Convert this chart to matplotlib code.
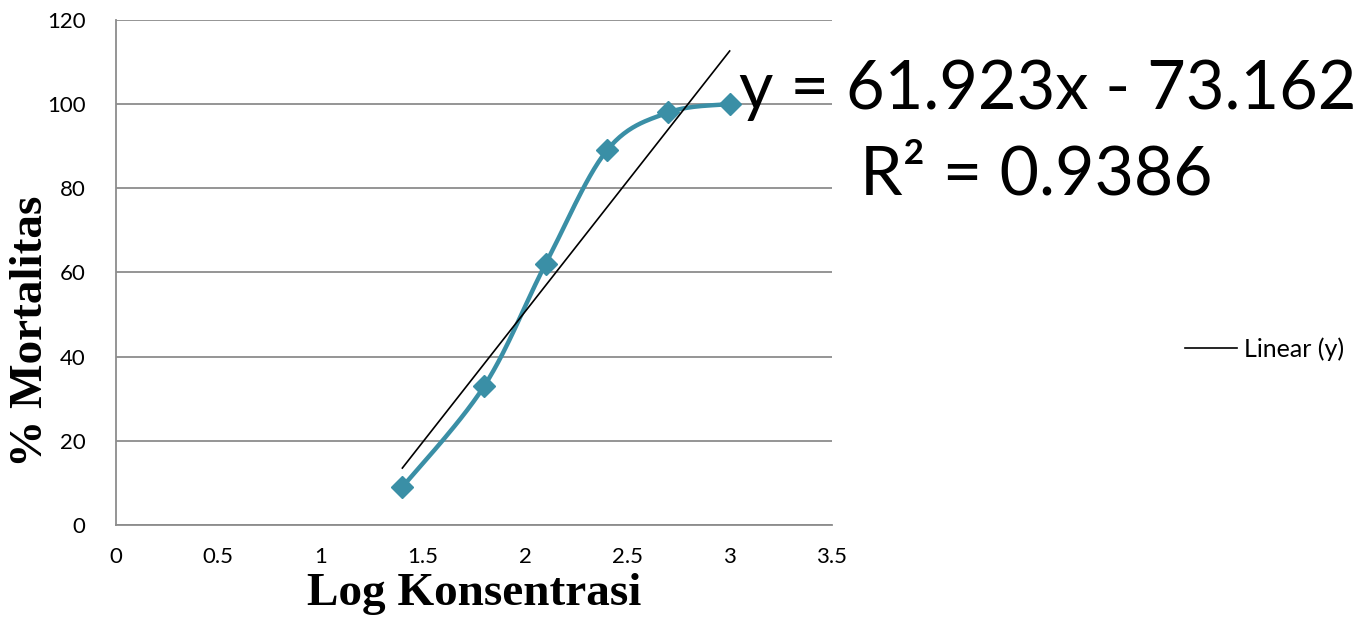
import numpy as np
import matplotlib.pyplot as plt

# data
log_konsentrasi = [1.4, 1.8, 2.1, 2.4, 2.7, 3.0]
mortalitas = [9, 33, 62, 89, 98, 100]
slope = 61.923
intercept = -73.162
r2 = 0.9386

x_ticks = [0, 0.5, 1, 1.5, 2, 2.5, 3, 3.5]
x_tick_labels = ["0", "0.5", "1", "1.5", "2", "2.5", "3", "3.5"]
y_ticks = [0, 20, 40, 60, 80, 100, 120]


def smooth_line(x, y, n=30, t=1.0 / 6):
    # bezier smoothing through the points, like a spreadsheet "smoothed line"
    x = np.asarray(x, float)
    y = np.asarray(y, float)
    xs, ys = [], []
    for i in range(len(x) - 1):
        p0 = np.array([x[max(i - 1, 0)], y[max(i - 1, 0)]])
        p1 = np.array([x[i], y[i]])
        p2 = np.array([x[i + 1], y[i + 1]])
        p3 = np.array([x[min(i + 2, len(x) - 1)], y[min(i + 2, len(x) - 1)]])
        c1 = p1 + (p2 - p0) * t
        c2 = p2 - (p3 - p1) * t
        s = np.linspace(0, 1, n)[:, None]
        b = (1 - s) ** 3 * p1 + 3 * (1 - s) ** 2 * s * c1 + 3 * (1 - s) * s ** 2 * c2 + s ** 3 * p2
        xs.extend(b[:, 0])
        ys.extend(b[:, 1])
    return np.array(xs), np.array(ys)


plt.rcParams['font.family'] = ['Lato', 'DejaVu Sans']

fig = plt.figure(figsize=(13.69, 6.37), dpi=100)
ax = fig.add_axes([0.0847, 0.1758, 0.523, 0.793])

teal = '#3a8fa6'
sx, sy = smooth_line(log_konsentrasi, mortalitas)
ax.plot(sx, sy, color=teal, lw=3.2, zorder=3, solid_capstyle='round')
ax.plot(log_konsentrasi, mortalitas, linestyle='none', marker='D', ms=11,
        color=teal, zorder=4)

tx = np.array([log_konsentrasi[0], log_konsentrasi[-1]])
line, = ax.plot(tx, slope * tx + intercept, color='black', lw=1.2, zorder=5,
                label='Linear (y)')

ax.set_xlim(0, 3.5)
ax.set_ylim(0, 120)
ax.set_xticks(x_ticks)
ax.set_xticklabels(x_tick_labels)
ax.set_yticks(y_ticks)
ax.tick_params(length=0, labelsize=16)
ax.tick_params(axis='y', pad=22)
ax.tick_params(axis='x', pad=16)
ax.yaxis.grid(True, color='#8c8c8c', lw=1.3)
ax.set_axisbelow(True)
for side in ['top', 'right']:
    ax.spines[side].set_visible(False)
for side in ['left', 'bottom']:
    ax.spines[side].set_color('#8c8c8c')
    ax.spines[side].set_linewidth(1.3)

ax.set_xlabel('Log Konsentrasi', fontsize=34, fontweight='bold',
              family='Liberation Serif', labelpad=4)
ax.set_ylabel('% Mortalitas', fontsize=34, fontweight='bold',
              family='Liberation Serif')
ax.yaxis.set_label_coords(-0.09, 0.384)

fig.text(0.765, 0.858, 'y = 61.923x - 73.162', fontsize=48, ha='center',
         va='center')
fig.text(0.757, 0.725, 'R² = 0.9386', fontsize=49, ha='center', va='center')

fig.legend(handles=[line], loc='center left', bbox_to_anchor=(0.8495, 0.452),
           frameon=False, fontsize=18, handlelength=2.05, handletextpad=0.28)

fig.savefig('out.png', dpi=100)
